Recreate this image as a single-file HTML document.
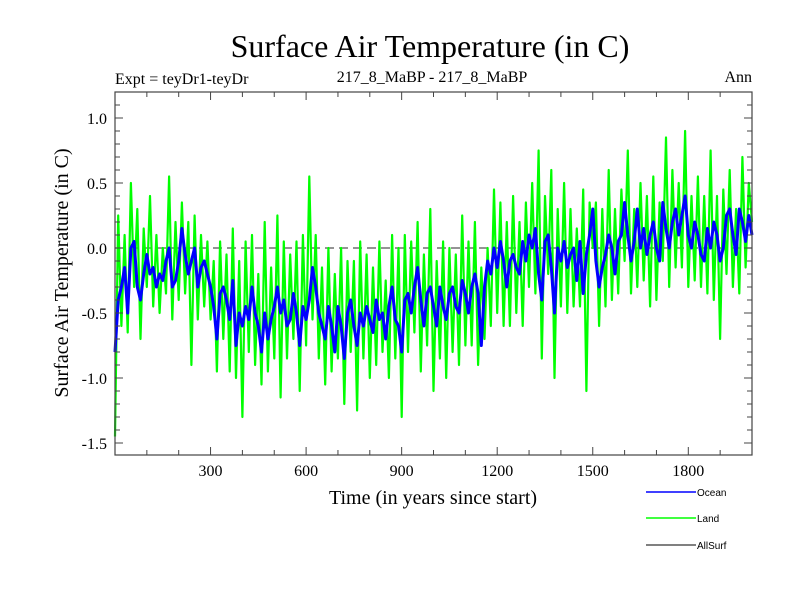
<!DOCTYPE html>
<html><head><meta charset="utf-8"><style>
body{margin:0;background:#fff;}
svg{display:block;font-family:"Liberation Serif",serif;}
</style></head><body>
<svg id="chart" width="800" height="600">
<text x="430" y="57" font-size="32" text-anchor="middle">Surface Air Temperature (in C)</text>
<text x="115" y="84" font-size="16">Expt = teyDr1-teyDr</text>
<text x="432" y="82" font-size="16" text-anchor="middle">217_8_MaBP - 217_8_MaBP</text>
<text x="752" y="82" font-size="16" text-anchor="end">Ann</text>
<text transform="translate(68,273) rotate(-90)" font-size="20" text-anchor="middle">Surface Air Temperature (in C)</text>
<text x="433" y="504" font-size="20" text-anchor="middle">Time (in years since start)</text>
<g id="plot"></g>
<g font-family="Liberation Sans,sans-serif" font-size="10">
<line x1="646" y1="492" x2="696" y2="492" stroke="#00f" stroke-width="1.5"/>
<text x="697" y="496">Ocean</text>
<line x1="646" y1="518" x2="696" y2="518" stroke="#0f0" stroke-width="1.5"/>
<text x="697" y="522">Land</text>
<line x1="646" y1="545" x2="696" y2="545" stroke="#000" stroke-width="1"/>
<text x="697" y="549">AllSurf</text>
</g>
</svg>
<script>
const xTicks=[300,600,900,1200,1500,1800];
const yTicks=[1.0,0.5,0.0,-0.5,-1.0,-1.5];
const yearStep=10;
const ocean=[-0.8,-0.4,-0.3,-0.15,-0.5,0.0,0.05,-0.3,-0.4,-0.2,
-0.05,-0.2,-0.15,-0.3,-0.2,-0.25,-0.1,0.0,-0.3,-0.25,
-0.1,0.15,-0.05,-0.2,-0.1,0.0,-0.3,-0.15,-0.1,-0.2,
-0.3,-0.45,-0.7,-0.35,-0.3,-0.4,-0.55,-0.25,-0.75,-0.5,
-0.6,-0.45,-0.55,-0.3,-0.5,-0.6,-0.8,-0.5,-0.7,-0.55,
-0.45,-0.3,-0.5,-0.4,-0.6,-0.55,-0.35,-0.5,-0.75,-0.45,
-0.55,-0.4,-0.15,-0.3,-0.5,-0.6,-0.7,-0.45,-0.6,-0.8,
-0.45,-0.6,-0.85,-0.5,-0.4,-0.6,-0.75,-0.5,-0.6,-0.45,
-0.55,-0.65,-0.4,-0.55,-0.5,-0.7,-0.45,-0.3,-0.55,-0.6,
-0.8,-0.4,-0.35,-0.5,-0.3,-0.15,-0.4,-0.6,-0.35,-0.3,
-0.45,-0.6,-0.3,-0.45,-0.55,-0.35,-0.3,-0.45,-0.5,-0.25,
-0.35,-0.5,-0.3,-0.2,-0.35,-0.75,-0.3,-0.1,-0.2,0.0,
-0.15,0.05,-0.1,-0.3,-0.1,-0.05,-0.15,-0.2,0.05,-0.1,
0.1,0.0,0.15,-0.2,-0.4,0.05,0.1,-0.15,-0.5,0.0,
-0.1,0.05,-0.15,-0.05,0.0,-0.25,0.05,-0.35,-0.05,0.1,
0.3,-0.1,-0.3,-0.15,-0.05,0.1,0.0,-0.2,0.05,0.1,
0.35,0.1,-0.1,0.05,0.3,0.0,0.15,-0.05,0.1,0.2,
0.0,-0.1,0.35,0.15,0.0,0.2,0.3,0.1,0.25,0.4,
0.1,0.0,0.2,0.1,-0.05,-0.1,0.15,0.0,0.2,0.1,
-0.1,0.0,0.25,0.3,0.1,-0.05,0.3,0.2,0.05,0.25,0.1];
const land=[-1.45,0.25,-0.6,0.1,-0.65,0.5,-0.3,0.3,-0.7,0.15,
-0.3,0.4,-0.45,0.1,-0.5,0.0,-0.35,0.55,-0.55,0.2,
-0.4,0.35,-0.35,0.2,-0.9,0.25,-0.55,0.1,-0.45,0.05,
-0.55,-0.1,-0.95,0.05,-0.7,-0.05,-0.95,0.15,-1.0,-0.1,
-1.3,0.05,-0.8,0.1,-0.9,-0.2,-1.05,0.2,-0.95,-0.15,
-0.85,0.25,-1.15,0.05,-0.85,-0.05,-0.7,0.05,-1.1,0.1,
-0.75,0.55,-0.55,0.1,-0.85,-0.15,-1.05,0.0,-0.95,-0.2,
-0.85,0.0,-1.2,-0.1,-0.8,-0.1,-1.25,0.05,-0.85,-0.05,
-1.0,-0.15,-0.9,0.05,-0.8,-0.25,-1.0,0.1,-0.85,0.0,
-1.3,0.1,-0.8,0.05,-0.65,0.2,-0.95,-0.05,-0.75,0.3,
-1.1,-0.1,-0.85,0.05,-1.0,0.0,-0.8,-0.05,-0.9,0.25,
-0.75,0.05,-0.75,0.2,-0.9,-0.15,-0.7,0.0,-0.6,0.45,
-0.5,0.35,-0.6,0.2,-0.6,0.4,-0.5,0.2,-0.6,0.35,
-0.3,0.5,-0.35,0.75,-0.85,0.4,-0.2,0.6,-1.0,0.3,
-0.45,0.5,-0.5,0.3,-0.45,0.15,-0.45,0.45,-1.1,0.35,
0.0,0.35,-0.6,0.3,-0.45,0.6,-0.4,0.3,-0.35,0.45,
-0.1,0.75,-0.35,0.3,-0.3,0.5,-0.25,0.4,-0.45,0.55,
-0.4,0.35,-0.1,0.85,-0.3,0.6,-0.15,0.5,-0.15,0.9,
-0.3,0.4,-0.25,0.55,-0.3,0.4,-0.35,0.75,-0.4,0.4,
-0.7,0.45,-0.2,0.6,-0.3,0.3,-0.35,0.7,-0.15,0.5,0.2];
const NS='http://www.w3.org/2000/svg';
const L=115,R=752,T=92,B=455;
const xs=v=>L+(v/2000)*(R-L);
const ys=v=>248-v*130;
const g=document.getElementById('plot');
function mk(tag,attrs){const e=document.createElementNS(NS,tag);for(const k in attrs)e.setAttribute(k,attrs[k]);g.appendChild(e);return e;}
let z=mk('line',{x1:L,x2:R,y1:ys(0),y2:ys(0),stroke:'#555','stroke-dasharray':'9,5','stroke-width':1.2});


function series(arr,color,w,name){
  const pts=arr.map((v,i)=>xs(i*yearStep).toFixed(1)+','+ys(v).toFixed(1)).join(' ');
  const p=mk('polyline',{points:pts,fill:'none',stroke:color,'stroke-width':w,'stroke-linejoin':'round'});
  
  
}
series(land,'#00ff00',2.2,'land-series');
series(ocean,'#0000ff',3,'ocean-series');
let f=mk('rect',{x:L,y:T,width:R-L,height:B-T,fill:'none',stroke:'#444','stroke-width':1.2});


for(let v=100;v<2000;v+=100){
  const major=v%300===0;const len=major?8:5;
  let t=mk('line',{x1:xs(v),x2:xs(v),y1:B,y2:B-len,stroke:'#444'});
  
  
  let t2=mk('line',{x1:xs(v),x2:xs(v),y1:T,y2:T+len,stroke:'#444'});
  
  
}
xTicks.forEach(v=>{
  let t=mk('text',{x:xs(v),y:B+21,'font-size':16,'text-anchor':'middle'});t.textContent=v;
  
  
});
for(let k=-15;k<=12;k++){
  const v=k/10;const major=k%5===0;const len=major?8:5;
  let t=mk('line',{x1:L,x2:L+len,y1:ys(v),y2:ys(v),stroke:'#444'});
  
  
  let t2=mk('line',{x1:R,x2:R-len,y1:ys(v),y2:ys(v),stroke:'#444'});
  
  
}
yTicks.forEach(v=>{
  let t=mk('text',{x:L-8,y:ys(v)+6,'font-size':16,'text-anchor':'end'});t.textContent=v.toFixed(1);
  
  
});
</script>
</body></html>
